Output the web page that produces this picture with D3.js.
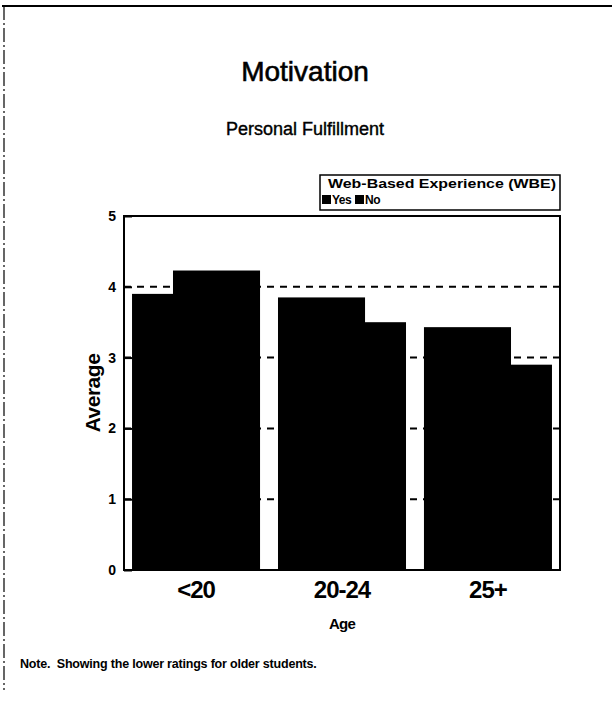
<!DOCTYPE html>
<html>
<head>
<meta charset="utf-8">
<script src="https://cdn.jsdelivr.net/npm/d3@7"></script>
<style>
  body { margin: 0; background: #fff; }
  text { font-family: "Liberation Sans", Arial, sans-serif; fill: #000; }
</style>
</head>
<body>
<svg id="chart" width="612" height="705"></svg>
<script>
const ageGroups = ["<20", "20-24", "25+"];
const wbeKeys = ["Yes", "No"];
const yesValues = [3.9, 3.85, 3.43];
const noValues = [4.23, 3.5, 2.9];
const yTicks = [0, 1, 2, 3, 4, 5];

const rows = ageGroups.map((g, i) => ({ group: g, Yes: yesValues[i], No: noValues[i] }));

const svg = d3.select("#chart");
const margin = { left: 124, right: 52, top: 216, bottom: 135 };
const width = +svg.attr("width");
const height = +svg.attr("height");

// page border (scanned page edge)
svg.append("line")
  .attr("x1", 2).attr("x2", 612).attr("y1", 6).attr("y2", 6)
  .attr("stroke", "#000").attr("stroke-width", 2);
svg.append("line")
  .attr("x1", 4).attr("x2", 4).attr("y1", 6).attr("y2", 690)
  .attr("stroke", "#000").attr("stroke-width", 1.2)
  .attr("stroke-dasharray", "14,3,2,3");

const x0 = d3.scaleBand()
  .domain(ageGroups)
  .range([margin.left, width - margin.right])
  .paddingInner(0.123)
  .paddingOuter(0.055);

const y = d3.scaleLinear()
  .domain([0, 5])
  .range([height - margin.bottom, margin.top]);

// bars overlap inside each group
const barW = x0.bandwidth() * 0.68;
const barStep = x0.bandwidth() - barW;

// dashed grid
svg.append("g")
  .selectAll("line")
  .data(yTicks.filter((t) => t > 0 && t < 5))
  .join("line")
  .attr("x1", margin.left)
  .attr("x2", width - margin.right)
  .attr("y1", (d) => y(d))
  .attr("y2", (d) => y(d))
  .attr("stroke", "#000")
  .attr("stroke-width", 2)
  .attr("stroke-dasharray", "7,6");

svg.append("g")
  .selectAll("g")
  .data(rows)
  .join("g")
  .attr("transform", (d) => `translate(${x0(d.group)},0)`)
  .selectAll("rect")
  .data((d) => wbeKeys.map((k, i) => ({ key: k, i: i, value: d[k] })))
  .join("rect")
  .attr("x", (d) => d.i * barStep)
  .attr("width", barW)
  .attr("y", (d) => y(d.value))
  .attr("height", (d) => y(0) - y(d.value))
  .attr("fill", "#000");

// frame
svg.append("rect")
  .attr("x", margin.left)
  .attr("y", margin.top)
  .attr("width", width - margin.left - margin.right)
  .attr("height", height - margin.top - margin.bottom)
  .attr("fill", "none")
  .attr("stroke", "#000")
  .attr("stroke-width", 2);

// y axis
const yAxis = svg.append("g")
  .attr("transform", `translate(${margin.left},0)`)
  .call(d3.axisLeft(y).tickValues(yTicks).tickSize(-8).tickPadding(8).tickFormat(d3.format("d")));
yAxis.select(".domain").remove();
yAxis.selectAll(".tick line").attr("stroke-width", 2);
yAxis.selectAll(".tick text")
  .attr("font-family", "Liberation Sans, Arial, sans-serif")
  .attr("font-size", 14)
  .attr("font-weight", "bold");

// x axis labels
const xAxis = svg.append("g")
  .attr("transform", `translate(0,${y(0)})`)
  .call(d3.axisBottom(x0).tickSize(0).tickPadding(11));
xAxis.select(".domain").remove();
xAxis.selectAll(".tick text")
  .attr("font-family", "Liberation Sans, Arial, sans-serif")
  .attr("font-size", 24)
  .attr("font-weight", "bold")
  .attr("letter-spacing", -1);

svg.append("text")
  .attr("x", (margin.left + width - margin.right) / 2)
  .attr("y", 629)
  .attr("text-anchor", "middle")
  .attr("font-size", 15)
  .attr("font-weight", "bold")
  .attr("letter-spacing", -0.8)
  .text("Age");

svg.append("text")
  .attr("transform", `translate(100,${(y(0) + y(5)) / 2}) rotate(-90)`)
  .attr("text-anchor", "middle")
  .attr("font-size", 21)
  .attr("font-weight", "bold")
  .attr("letter-spacing", -0.5)
  .text("Average");

// titles
svg.append("text")
  .attr("x", 305)
  .attr("y", 81)
  .attr("text-anchor", "middle")
  .attr("font-size", 28)
  .attr("stroke", "#000")
  .attr("stroke-width", 0.6)
  .text("Motivation");

svg.append("text")
  .attr("x", 305)
  .attr("y", 135)
  .attr("text-anchor", "middle")
  .attr("font-size", 18)
  .attr("stroke", "#000")
  .attr("stroke-width", 0.4)
  .text("Personal Fulfillment");

// legend
const legend = svg.append("g").attr("transform", "translate(320,175)");
legend.append("rect")
  .attr("width", 240).attr("height", 35)
  .attr("fill", "#fff").attr("stroke", "#000").attr("stroke-width", 1.5);
legend.append("text")
  .attr("x", 8).attr("y", 13)
  .attr("font-size", 12.5)
  .attr("font-weight", "bold")
  .attr("textLength", 228)
  .attr("lengthAdjust", "spacingAndGlyphs")
  .text("Web-Based Experience (WBE)");
const item = legend.selectAll(".item")
  .data(wbeKeys)
  .join("g")
  .attr("class", "item")
  .attr("transform", (d, i) => `translate(${2 + i * 33},20)`);
item.append("rect").attr("width", 9).attr("height", 9).attr("fill", "#000");
item.append("text")
  .attr("x", 10).attr("y", 9)
  .attr("font-size", 12)
  .attr("font-weight", "bold")
  .attr("letter-spacing", -0.5)
  .text((d) => d);

// note
svg.append("text")
  .attr("x", 20)
  .attr("y", 668)
  .attr("font-size", 12.5)
  .attr("font-weight", "bold")
  .attr("letter-spacing", -0.2)
  .attr("xml:space", "preserve")
  .text("Note.  Showing the lower ratings for older students.");
</script>
</body>
</html>
